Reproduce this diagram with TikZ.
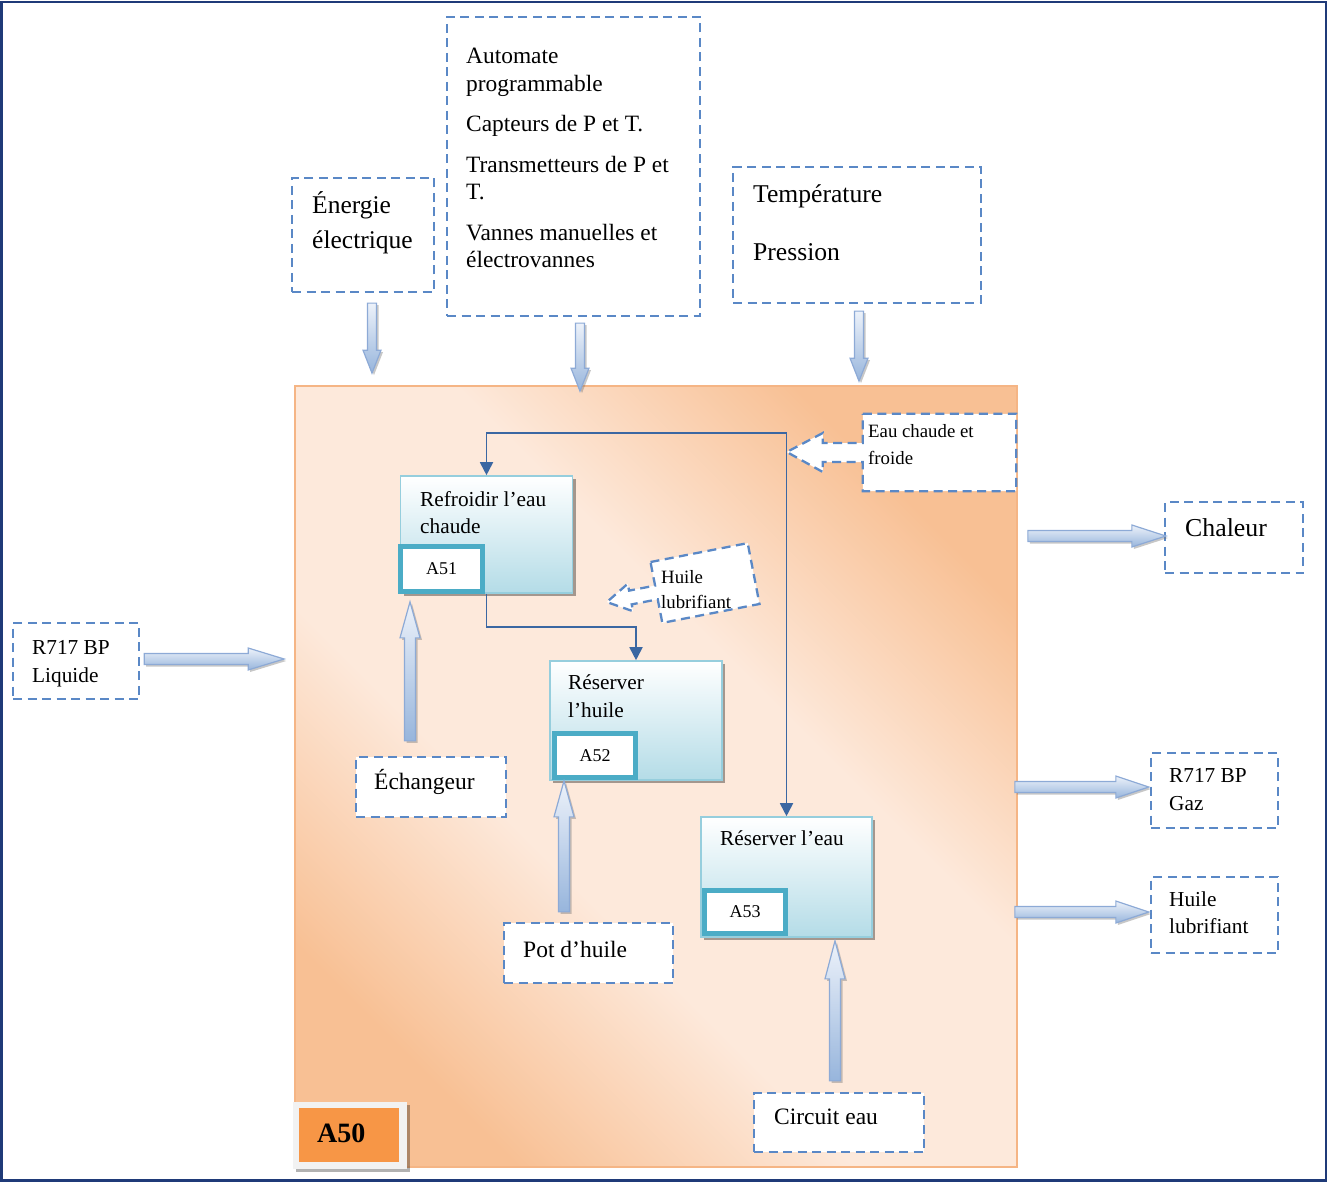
\documentclass[tikz,border=0pt]{standalone}
\usepackage{fontspec}
\setmainfont{Liberation Serif}
\usetikzlibrary{arrows.meta,calc,shadows}

\definecolor{frameNavy}{HTML}{1F3A78}
\definecolor{dashBlue}{HTML}{5A88C6}
\definecolor{linkBlue}{HTML}{3B67A2}
\definecolor{orLight}{HTML}{FDE9DB}
\definecolor{orDark}{HTML}{F8C094}
\definecolor{orEdge}{HTML}{F5B585}
\definecolor{orBadge}{HTML}{F79646}
\definecolor{tealEdge}{HTML}{4BACC6}
\definecolor{cyanEdge}{HTML}{96CEDD}
\definecolor{cyanFill}{HTML}{B4DCE7}
\definecolor{arrTop}{HTML}{EDF2FA}
\definecolor{arrBot}{HTML}{97B5DC}
\definecolor{arrEdge}{HTML}{8DAAD6}

% diagonal band: orange at two opposite corners, pale in between
\pgfdeclareverticalshading{orBand}{100bp}{color(0bp)=(orDark); color(25bp)=(orDark);
  color(41bp)=(orLight); color(59bp)=(orLight); color(75bp)=(orDark); color(100bp)=(orDark)}

% left-aligned multi-line block whose baseline is the first line
\newcommand\ml[1]{\vtop{\halign{##\hfil\cr#1\crcr}}}

\tikzset{
  dashbox/.style={draw=dashBlue, line width=2.3pt, dash pattern=on 9pt off 5.5pt, fill=white, inner sep=0pt},
  txt/.style={inner sep=0pt, anchor=base west, text=black},
  procbox/.style={draw=cyanEdge, line width=1.6pt, top color=white, bottom color=cyanFill, inner sep=0pt,
    drop shadow={shadow xshift=3pt, shadow yshift=-3pt, fill=black, opacity=.35}},
  codebox/.style={draw=tealEdge, line width=5pt, fill=white, inner sep=0pt, font=\fontsize{18}{20}\selectfont},
  link/.style={draw=linkBlue, line width=1.8pt, -{Triangle[width=13pt,length=13pt]}},
  fat/.style={draw=arrEdge, line width=1.2pt, top color=arrTop, bottom color=arrBot},
  fatshadow/.style={fill=black!55, opacity=.4},
}

% thick outlined arrow: #1 tail point, #2 direction, #3 length,
% #4 head length, #5 head half-width, #6 shaft half-width
\newcommand\fatarrow[6]{%
  \begin{scope}[shift={#1}]
    \fill[fatshadow, shift={(2,2)}, rotate=#2]
      (0,-#6) -- ({#3-#4},-#6) -- ({#3-#4},-#5) -- (#3,0) -- ({#3-#4},#5) -- ({#3-#4},#6) -- (0,#6) -- cycle;
    \shade[fat, rotate=#2]
      (0,-#6) -- ({#3-#4},-#6) -- ({#3-#4},-#5) -- (#3,0) -- ({#3-#4},#5) -- ({#3-#4},#6) -- (0,#6) -- cycle;
  \end{scope}}

\begin{document}
\begin{tikzpicture}[x=1pt,y=-1pt]
\useasboundingbox (0,0) rectangle (1328,1182);
\draw[frameNavy, line width=2.5pt] (1.5,2) rectangle (1326,1180.5);

% system boundary A50
\node[draw=orEdge, line width=1.5pt, minimum width=722pt, minimum height=781pt, inner sep=0pt,
      shading=orBand, shading angle=-45] (A50) at (656,776.5) {};
\node[fill=black!5, minimum width=114pt, minimum height=67pt, inner sep=0pt,
      drop shadow={shadow xshift=3pt, shadow yshift=-3pt, fill=black, opacity=.3}] (badgeFrame) at (350,1135.5) {};
\node[fill=orBadge, minimum width=100pt, minimum height=54pt, inner sep=0pt] (badge) at (349,1135) {};
\node[txt, font=\fontsize{28}{30}\selectfont\bfseries] (badgeTxt) at (317,1142) {A50};

% activities
\node[procbox, minimum width=172pt, minimum height=117pt] (A51) at (486.5,534.5) {};
\node[codebox, minimum width=82pt, minimum height=45pt] (A51code) at (441.5,569) {A51};
\node[txt, font=\fontsize{21.3}{27}\selectfont] (A51txt) at (420,506) {\ml{Refroidir l’eau\cr chaude}};

\node[procbox, minimum width=172pt, minimum height=119pt] (A52) at (636,720.5) {};
\node[codebox, minimum width=81pt, minimum height=44pt] (A52code) at (595,755.5) {A52};
\node[txt, font=\fontsize{21.3}{28}\selectfont] (A52txt) at (568,689) {\ml{Réserver\cr l’huile}};

\node[procbox, minimum width=171pt, minimum height=120pt] (A53) at (786.5,877) {};
\node[codebox, minimum width=81pt, minimum height=43pt] (A53code) at (745,912) {A53};
\node[txt, font=\fontsize{21.3}{28}\selectfont] (A53txt) at (720,845) {Réserver l’eau};

% water and oil links
\coordinate (J) at (A53.north |- 0,433);
\draw[link] (J) -| (A51.north);
\draw[link] (J) -- (A53.north);
\draw[link] (A51.south) -- ++(0,33) -| (A52.north);

% hot and cold water callout
\node[minimum width=153pt, minimum height=77pt, inner sep=0pt] (eauBox) at (939.5,452.5) {};
\draw[dashbox] (eauBox.north west) -- (eauBox.north east) -- (eauBox.south east) -- (eauBox.south west)
  -- ([yshift=-9.5pt]eauBox.west) -- ++(-40,0) -- ++(0,10) -- ++(-36,-20) -- ++(36,-19) -- ++(0,10) -- ++(40,0) -- cycle;
\node[txt, font=\fontsize{18.8}{27}\selectfont] (eauTxt) at (868,437) {\ml{Eau chaude et\cr froide}};

% lubricating oil callout, tilted frame with upright text
\begin{scope}[shift={(705,583)}, rotate=11]
  \draw[dashbox] (-49.5,-31) -- (49.5,-31) -- (49.5,31) -- (-49.5,31)
    -- (-49.5,7) -- (-76,7) -- (-76,14) -- (-100,0) -- (-76,-14) -- (-76,-7) -- (-49.5,-7) -- cycle;
\end{scope}
\node[txt, font=\fontsize{18.8}{25.5}\selectfont] (huileTagTxt) at (661,583) {\ml{Huile\cr lubrifiant}};

% controls and inputs above
\node[dashbox, minimum width=142pt, minimum height=114pt] (energie) at (363,235) {};
\node[txt, font=\fontsize{25.5}{35}\selectfont] (energieTxt) at (312,214) {\ml{Énergie\cr électrique}};

\node[dashbox, minimum width=253pt, minimum height=299pt] (automate) at (573.5,166.5) {};
\node[txt, font=\fontsize{23.4}{27.5}\selectfont] (automateTxt) at (466,64)
  {\ml{Automate\cr programmable\cr\noalign{\vskip13pt}Capteurs de P et T.\cr\noalign{\vskip13pt}Transmetteurs de P et\cr T.\cr\noalign{\vskip13pt}Vannes manuelles et\cr électrovannes}};

\node[dashbox, minimum width=248pt, minimum height=136pt] (mesure) at (857,235) {};
\node[txt, font=\fontsize{25.6}{58}\selectfont] (mesureTxt) at (753,203) {\ml{Température\cr Pression}};

% inputs and outputs at the sides
\node[dashbox, minimum width=126pt, minimum height=76pt] (liquide) at (76,661) {};
\node[txt, font=\fontsize{21.3}{28}\selectfont] (liquideTxt) at (32,654) {\ml{R717 BP\cr Liquide}};

\node[dashbox, minimum width=138pt, minimum height=71pt] (chaleur) at (1234,537.5) {};
\node[txt, font=\fontsize{25.8}{30}\selectfont] (chaleurTxt) at (1185,536) {Chaleur};

\node[dashbox, minimum width=127pt, minimum height=75pt] (gaz) at (1214.5,790.5) {};
\node[txt, font=\fontsize{21.3}{28}\selectfont] (gazTxt) at (1169,782) {\ml{R717 BP\cr Gaz}};

\node[dashbox, minimum width=127pt, minimum height=76pt] (huileOut) at (1214.5,915) {};
\node[txt, font=\fontsize{21.3}{27}\selectfont] (huileOutTxt) at (1169,906) {\ml{Huile\cr lubrifiant}};

% mechanisms below
\node[dashbox, minimum width=150pt, minimum height=60pt] (echangeur) at (431,787) {};
\node[txt, font=\fontsize{23.5}{28}\selectfont] (echangeurTxt) at (374,789) {Échangeur};

\node[dashbox, minimum width=169pt, minimum height=60pt] (pot) at (588.5,953) {};
\node[txt, font=\fontsize{23.5}{28}\selectfont] (potTxt) at (523,957) {Pot d’huile};

\node[dashbox, minimum width=170pt, minimum height=59pt] (circuit) at (839,1122.5) {};
\node[txt, font=\fontsize{23.5}{28}\selectfont] (circuitTxt) at (774,1124) {Circuit eau};

% thick flow arrows
\fatarrow{($(energie.south)+(9,10)$)}{-90}{70}{23}{9}{4.5}
\fatarrow{($(automate.south)+(6.5,6)$)}{-90}{68}{23}{9}{4.5}
\fatarrow{($(mesure.south)+(2,7)$)}{-90}{70}{23}{9}{4.5}
\fatarrow{($(liquide.east)+(4,-2)$)}{0}{140}{36}{11}{5.5}
\fatarrow{($(chaleur.west)+(-136,-1.5)$)}{0}{138}{34}{11}{5.5}
\fatarrow{($(gaz.west)+(-135,-3.5)$)}{0}{134}{33}{11}{5.5}
\fatarrow{($(huileOut.west)+(-135,-3)$)}{0}{134}{33}{11}{5.5}
\fatarrow{($(echangeur.north)+(-21,-15)$)}{90}{139}{36}{10}{5.5}
\fatarrow{($(pot.north)+(-24.5,-10)$)}{90}{131}{36}{10}{5.5}
\fatarrow{($(circuit.north)+(-4,-11)$)}{90}{140}{38}{10}{5.5}
\end{tikzpicture}
\end{document}
